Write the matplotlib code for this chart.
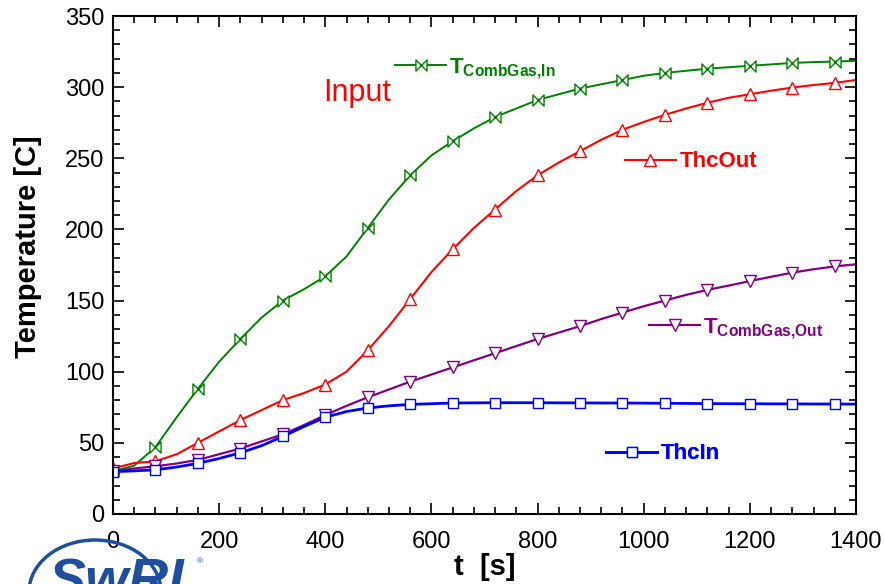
import matplotlib
matplotlib.use("Agg")
import matplotlib.pyplot as plt
import numpy as np
from matplotlib.path import Path
from matplotlib.patches import Ellipse
from matplotlib.ticker import MultipleLocator

plt.rcParams["font.family"] = ["Liberation Sans", "DejaVu Sans"]
plt.rcParams["mathtext.fontset"] = "custom"
plt.rcParams["mathtext.rm"] = "Liberation Sans"
plt.rcParams["mathtext.bf"] = "Liberation Sans:bold"

# --- data: temperatures [C] every 40 s, markers every 80 s ---
t = np.arange(0, 1401, 40)
T_gas_in = [30, 34, 47, 68, 88, 107, 123, 138, 150, 158, 167, 181, 201, 221,
            238, 252, 262, 271, 279, 285, 291, 295, 299, 302, 305, 308, 310,
            311.5, 313, 314, 315, 316, 317, 317.6, 318, 318.5]
T_hc_out = [32, 35.8, 37, 42, 50, 58, 66, 73, 80, 85, 91, 100, 115, 132,
            151, 170, 186, 201, 214, 227, 238, 247, 255, 263, 270, 275.5,
            280.5, 285, 289, 292.5, 295, 297.5, 299.7, 301.5, 303, 305]
T_gas_out = [30, 32, 33.5, 35.5, 38, 42, 46, 51, 56, 62.5, 69.5, 76, 82,
             87.5, 93, 98, 103, 108, 113, 118, 123, 127.5, 132, 137, 141.5,
             146, 150, 154, 157.5, 160.5, 163.7, 166.7, 169.6, 172, 174, 175.5]
T_hc_in = [29.7, 30.3, 31, 33, 35.6, 39, 43, 48, 54.5, 61.5, 68, 72, 74.5,
           76, 77, 77.5, 78, 78.1, 78.2, 78.2, 78.2, 78.1, 78.1, 78, 78, 77.9,
           77.8, 77.7, 77.6, 77.5, 77.5, 77.4, 77.4, 77.3, 77.3, 77.2]

# bow-tie marker for the gas inlet curve
bowtie = Path([(-1, -1), (1, 1), (1, -1), (-1, 1), (-1, -1)],
              [Path.MOVETO, Path.LINETO, Path.LINETO, Path.LINETO, Path.CLOSEPOLY])

fig = plt.figure(figsize=(8.85, 5.84), dpi=100)
ax = fig.add_axes([0.1277, 0.1199, 0.8395, 0.8527])

common = dict(markevery=2, markerfacecolor="white", markersize=8)
l_gin, = ax.plot(t, T_gas_in, color="#008000", lw=1.4, marker=bowtie,
                 mew=1.0, **common)
l_out, = ax.plot(t, T_hc_out, color="#ff0000", lw=1.5, marker="^",
                 mew=1.0, **common)
l_gout, = ax.plot(t, T_gas_out, color="#800080", lw=1.6, marker="v",
                  mew=1.0, **common)
l_in, = ax.plot(t, T_hc_in, color="#0000ff", lw=2.0, marker="s",
                mew=1.0, markerfacecolor="white", markersize=7.5, markevery=2)

ax.set_xlim(0, 1400)
ax.set_ylim(0, 350)
ax.xaxis.set_major_locator(MultipleLocator(200))
ax.xaxis.set_minor_locator(MultipleLocator(40))
ax.yaxis.set_major_locator(MultipleLocator(50))
ax.yaxis.set_minor_locator(MultipleLocator(10))
ax.tick_params(which="both", direction="in", top=True, right=True,
               width=1.2, labelsize=17)
ax.tick_params(which="major", length=8)
ax.tick_params(which="minor", length=5)
ax.tick_params(axis="x", pad=12)
ax.tick_params(axis="y", pad=6)
for s in ax.spines.values():
    s.set_linewidth(1.5)

ax.set_ylabel("Temperature [C]", fontsize=21, weight="bold")
ax.yaxis.set_label_coords(-0.096, 0.536)
ax.set_xlabel("t  [s]", fontsize=21, weight="bold", labelpad=0)

# inline curve labels
labels = [
    (l_gin, r"$\mathbf{T}_{\mathbf{CombGas{,}In}}$", "#008000", (0.3795, 0.895)),
    (l_out, "ThcOut", "#ff0000", (0.689, 0.707)),
    (l_gout, r"$\mathbf{T}_{\mathbf{CombGas{,}Out}}$", "#800080", (0.7214, 0.373)),
    (l_in, "ThcIn", "#0000ff", (0.6635, 0.1205)),
]
for handle, text, col, anchor in labels:
    leg = ax.legend([handle], [text], loc="center left", bbox_to_anchor=anchor,
                    frameon=False, borderpad=0, borderaxespad=0,
                    handlelength=2.3, handletextpad=0.15, numpoints=1,
                    prop=dict(size=16, weight="bold"), labelcolor=col)
    ax.add_artist(leg)

ax.text(0.283, 0.845, "Input", transform=ax.transAxes, fontsize=22,
        color="#ff0000", va="center", ha="left")

# logo in the lower-left corner
logo = "#1f4e9c"
fig.add_artist(Ellipse((95 / 885, 1 - 592 / 584), width=132 / 885,
                       height=104 / 584, transform=fig.transFigure,
                       fill=False, ec=logo, lw=2.5))
fig.text(48 / 885, 1 - 558 / 584, "SwRI", fontsize=40, weight="bold",
         style="italic", color=logo, va="top", ha="left")
fig.text(197 / 885, 1 - 558 / 584, "®", fontsize=6, color=logo,
         va="top", ha="left")

fig.savefig("out.png", dpi=100)
